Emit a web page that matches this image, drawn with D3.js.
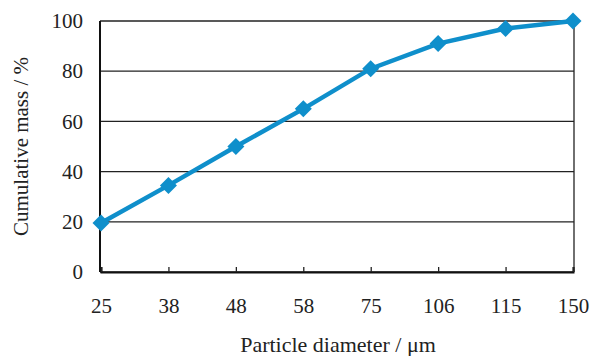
<!DOCTYPE html>
<html>
<head>
<meta charset="utf-8">
<script src="https://cdn.jsdelivr.net/npm/d3@7"></script>
<style>
  body { margin: 0; background: #fff; }
  svg text { font-family: "Liberation Serif", "Times New Roman", serif; fill: #222; }
</style>
</head>
<body>
<svg id="chart" width="590" height="356"></svg>
<script>
// particle size categories and cumulative mass (%)
const sizes = ["25", "38", "48", "58", "75", "106", "115", "150"];
const cumMass = [19.5, 34.5, 50, 65, 81, 91, 97, 100];
const yTicks = [0, 20, 40, 60, 80, 100];

const margin = {top: 21, right: 16, bottom: 84, left: 100};
const width = 590, height = 356;
const svg = d3.select("#chart");

const x = d3.scalePoint()
    .domain(sizes)
    .range([margin.left + 1, width - margin.right - 1]);

const y = d3.scaleLinear()
    .domain([0, 100])
    .range([height - margin.bottom, margin.top]);

// gridlines
svg.append("g")
    .selectAll("line")
    .data(yTicks)
    .join("line")
    .attr("x1", margin.left)
    .attr("x2", width - margin.right)
    .attr("y1", d => y(d))
    .attr("y2", d => y(d))
    .attr("stroke", "#222")
    .attr("stroke-width", 1.3);

// plot border (left + right)
svg.append("line")
    .attr("x1", margin.left).attr("x2", margin.left)
    .attr("y1", y(100)).attr("y2", y(0))
    .attr("stroke", "#111").attr("stroke-width", 2);
svg.append("line")
    .attr("x1", width - margin.right).attr("x2", width - margin.right)
    .attr("y1", y(100)).attr("y2", y(0))
    .attr("stroke", "#222").attr("stroke-width", 1.3);

// x axis
const xAxis = svg.append("g")
    .attr("transform", `translate(0,${y(0)})`)
    .call(d3.axisBottom(x).tickSize(-5).tickPadding(26));
xAxis.select(".domain").attr("stroke", "#111").attr("stroke-width", 2);
xAxis.selectAll(".tick line").attr("stroke", "#222").attr("stroke-width", 1.3);
xAxis.selectAll("text").attr("font-size", 21).attr("fill", "#222")
    .style("font-family", "Liberation Serif");

// y axis labels
const yAxis = svg.append("g")
    .attr("transform", `translate(${margin.left},0)`)
    .call(d3.axisLeft(y).tickValues(yTicks).tickSize(0).tickPadding(17));
yAxis.select(".domain").remove();
yAxis.selectAll("text").attr("font-size", 21).attr("fill", "#222")
    .style("font-family", "Liberation Serif");

// line
const line = d3.line()
    .x((d, i) => x(sizes[i]))
    .y(d => y(d));

svg.append("path")
    .datum(cumMass)
    .attr("d", line)
    .attr("fill", "none")
    .attr("stroke", "#0f8fcb")
    .attr("stroke-width", 4.5);

// diamond markers
svg.append("g")
    .selectAll("path")
    .data(cumMass)
    .join("path")
    .attr("transform", (d, i) => `translate(${x(sizes[i])},${y(d)})`)
    .attr("d", "M0,-8.5L8.5,0L0,8.5L-8.5,0Z")
    .attr("fill", "#0f8fcb");

// axis titles
svg.append("text")
    .attr("x", 338)
    .attr("y", 352)
    .attr("text-anchor", "middle")
    .attr("font-size", 22)
    .text("Particle diameter /  μm");

svg.append("text")
    .attr("transform", `translate(28,${(y(0) + y(100)) / 2}) rotate(-90)`)
    .attr("text-anchor", "middle")
    .attr("font-size", 21)
    .text("Cumulative mass / %");
</script>
</body>
</html>
